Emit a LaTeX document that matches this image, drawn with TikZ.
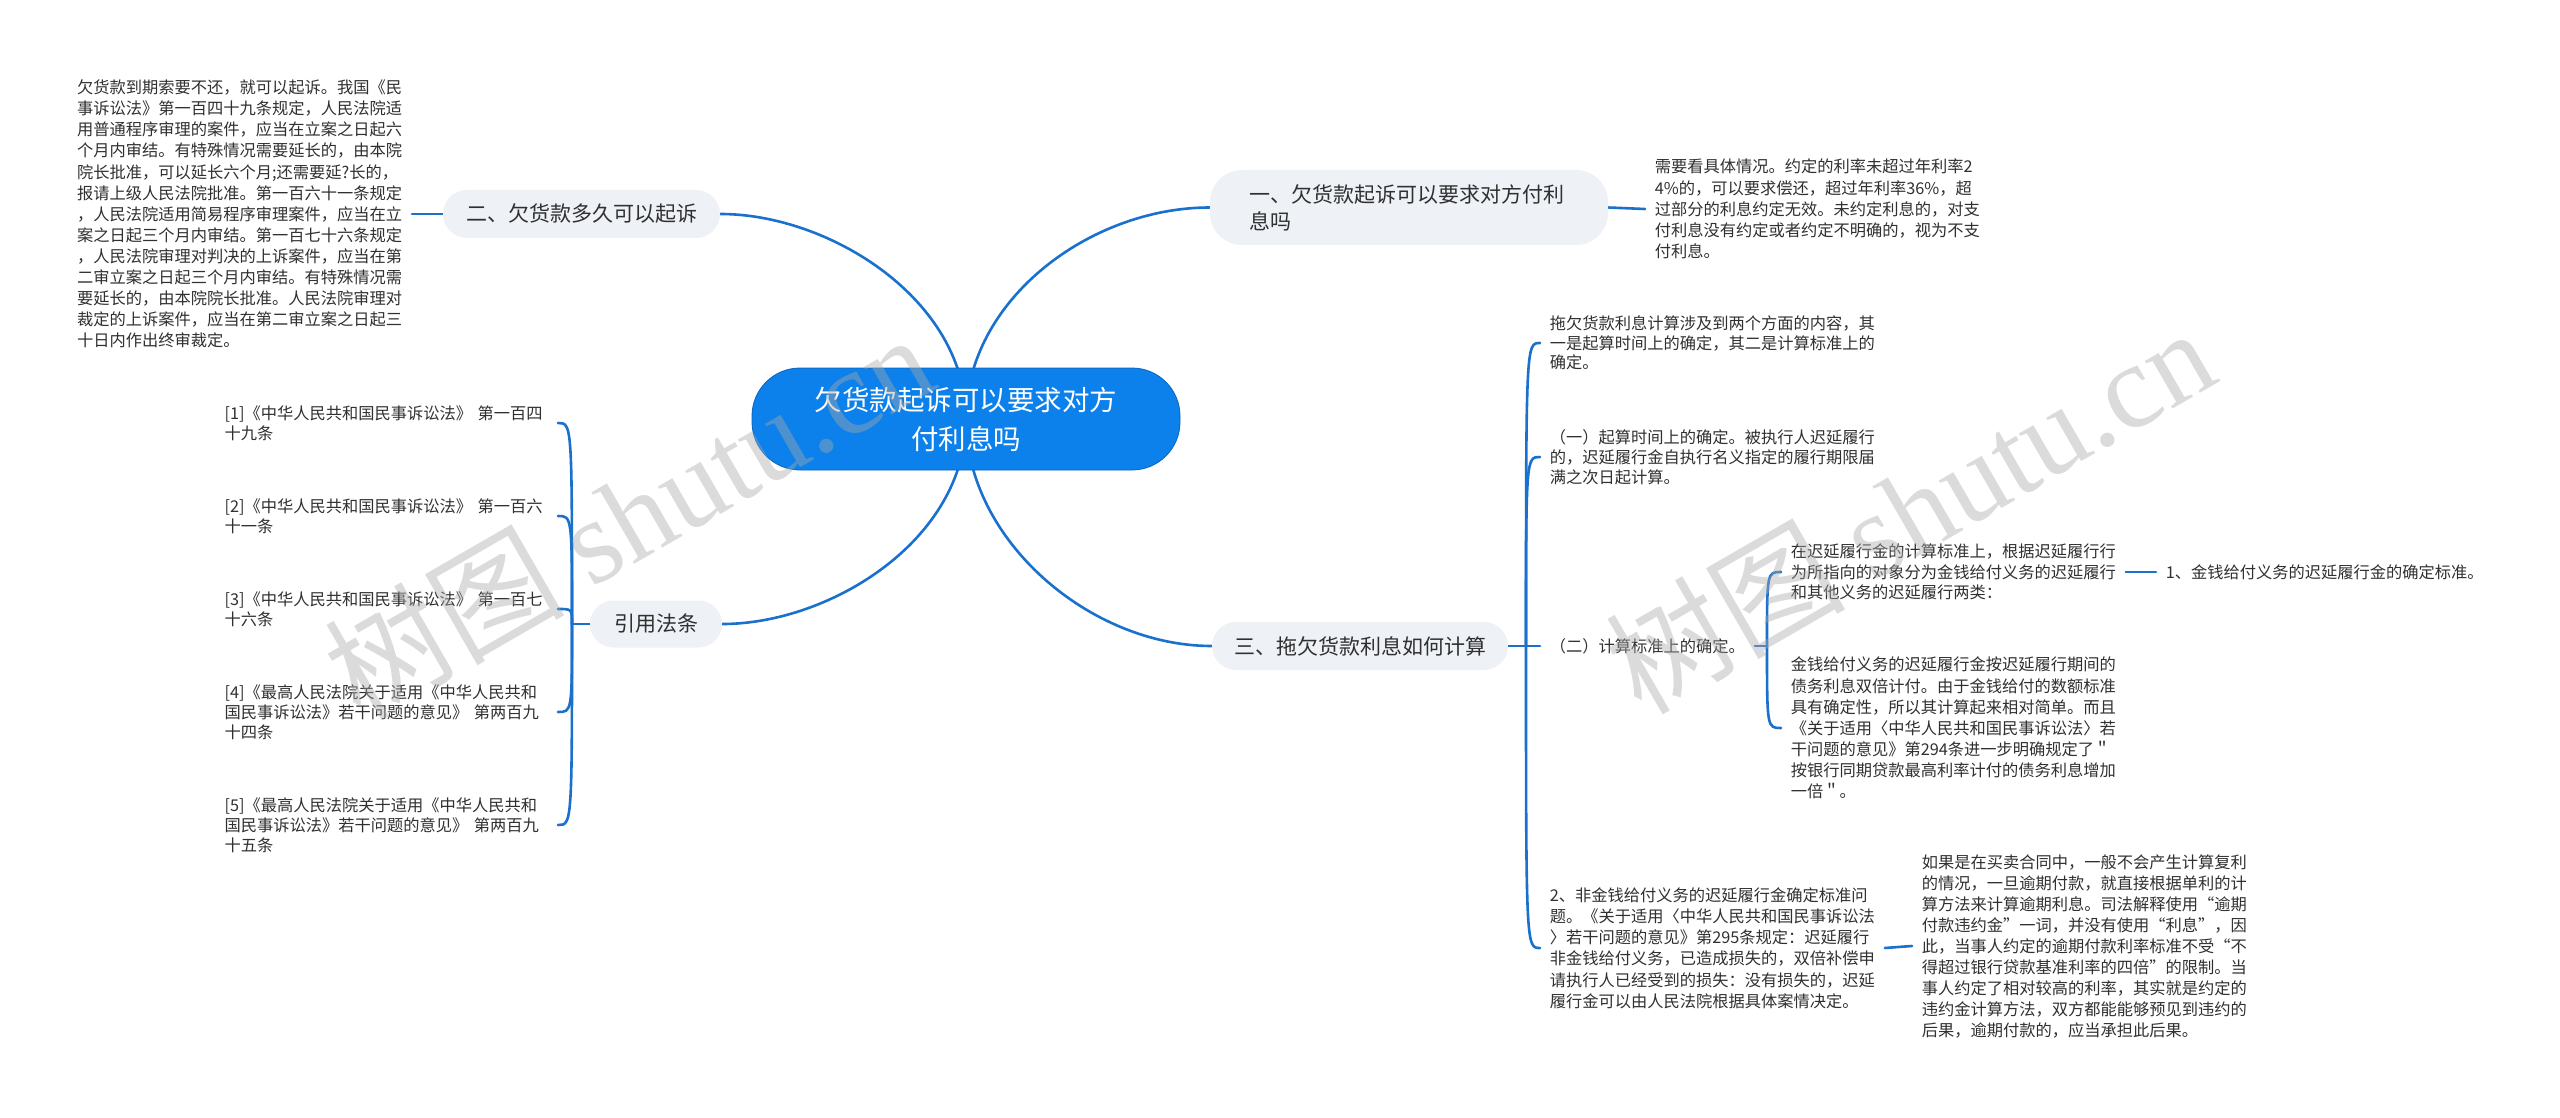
\documentclass[tikz,border=0pt]{standalone}
\usepackage{fontspec}
\setmainfont{Noto Sans CJK SC}
\newfontfamily\wmlatin{Liberation Serif}
\pgfdeclarelayer{bgl}
\pgfdeclarelayer{lines}
\pgfdeclarelayer{wml}
\pgfsetlayers{bgl,lines,main,wml}
\definecolor{lineblue}{RGB}{25,112,205}
\definecolor{pillgray}{RGB}{238,241,246}
\definecolor{rootblue}{RGB}{12,128,235}
\definecolor{txtgray}{RGB}{48,48,48}
\definecolor{wmgray}{RGB}{170,170,170}
\newcommand\lfs[1]{\fontsize{8.125pt}{#1}\selectfont}
\tikzset{
  conn/.style={draw=lineblue, line width=1.3pt, line cap=round},
  pillnode/.style={fill=pillgray, text=txtgray, inner sep=0pt, font={\fontsize{10.5pt}{13.5pt}\selectfont}},
  leaf/.style={text=txtgray, align=left, inner ysep=1pt, inner xsep=4.75pt},
  leafR/.style={leaf, anchor=west},
  leafL/.style={leaf, anchor=east},
  wmark/.style={text=wmgray, opacity=0.42, rotate=30, font={\fontsize{60pt}{60pt}\selectfont}}
}
\begin{document}
\begin{tikzpicture}[x=0.5pt,y=-0.5pt]
\useasboundingbox (0,0) rectangle (2560,1118);
\begin{pgfonlayer}{bgl}
\fill[white] (0,0) rectangle (2560,1118);
\end{pgfonlayer}

% root and branches
\node[pillnode, fill=rootblue, draw=rootblue!80!black, line width=0.4pt, text=white, minimum width=214pt, minimum height=51pt, rounded corners=24pt, align=center, font={\fontsize{13.75pt}{19.5pt}\selectfont}] (root) at (966,419) {欠货款起诉可以要求对方\\付利息吗};
\node[pillnode, minimum width=138.5pt, minimum height=24pt, rounded corners=12pt] (b2) at (581.5,214) {二、欠货款多久可以起诉};
\node[pillnode, minimum width=66pt, minimum height=23.5pt, rounded corners=11.75pt] (b4) at (656,624) {引用法条};
\node[pillnode, minimum width=199pt, minimum height=37.5pt, rounded corners=16pt, text width=160pt, align=left] (b1) at (1409,207.5) {一、欠货款起诉可以要求对方付利\\息吗};
\node[pillnode, minimum width=148pt, minimum height=24pt, rounded corners=12pt] (b3) at (1360,646) {三、拖欠货款利息如何计算};

% left leaves
\node[leafL, font=\lfs{10.55pt}] (l2) at (412,214) {欠货款到期索要不还，就可以起诉。我国《民\\事诉讼法》第一百四十九条规定，人民法院适\\用普通程序审理的案件，应当在立案之日起六\\个月内审结。有特殊情况需要延长的，由本院\\院长批准，可以延长六个月;还需要延?长的，\\报请上级人民法院批准。第一百六十一条规定\\，人民法院适用简易程序审理案件，应当在立\\案之日起三个月内审结。第一百七十六条规定\\，人民法院审理对判决的上诉案件，应当在第\\二审立案之日起三个月内审结。有特殊情况需\\要延长的，由本院院长批准。人民法院审理对\\裁定的上诉案件，应当在第二审立案之日起三\\十日内作出终审裁定。};
\node[leafL, text width=162.5pt, inner xsep=4pt, font=\lfs{10pt}] (r1) at (558,423) {[1]《中华人民共和国民事诉讼法》 第一百四\\十九条};
\node[leafL, text width=162.5pt, inner xsep=4pt, font=\lfs{10pt}] (r2) at (558,516) {[2]《中华人民共和国民事诉讼法》 第一百六\\十一条};
\node[leafL, text width=162.5pt, inner xsep=4pt, font=\lfs{10pt}] (r3) at (558,609) {[3]《中华人民共和国民事诉讼法》 第一百七\\十六条};
\node[leafL, text width=162.5pt, inner xsep=4pt, font=\lfs{10pt}] (r4) at (558,712) {[4]《最高人民法院关于适用《中华人民共和\\国民事诉讼法》若干问题的意见》 第两百九\\十四条};
\node[leafL, text width=162.5pt, inner xsep=4pt, font=\lfs{10pt}] (r5) at (558,825) {[5]《最高人民法院关于适用《中华人民共和\\国民事诉讼法》若干问题的意见》 第两百九\\十五条};

% right leaves
\node[leafR, font=\lfs{10.6pt}] (l1) at (1645,209) {需要看具体情况。约定的利率未超过年利率2\\4\%的，可以要求偿还，超过年利率36\%，超\\过部分的利息约定无效。未约定利息的，对支\\付利息没有约定或者约定不明确的，视为不支\\付利息。};
\node[leafR, font=\lfs{9.8pt}] (a1) at (1540,343) {拖欠货款利息计算涉及到两个方面的内容，其\\一是起算时间上的确定，其二是计算标准上的\\确定。};
\node[leafR, font=\lfs{10pt}] (a2) at (1540,457) {（一）起算时间上的确定。被执行人迟延履行\\的，迟延履行金自执行名义指定的履行期限届\\满之次日起计算。};
\node[leafR, font=\lfs{10pt}] (a3) at (1540,646) {（二）计算标准上的确定。};
\node[leafR, font=\lfs{10.3pt}] (c1) at (1781,572) {在迟延履行金的计算标准上，根据迟延履行行\\为所指向的对象分为金钱给付义务的迟延履行\\和其他义务的迟延履行两类：};
\node[leafR, font=\lfs{10pt}] (c1a) at (2156,572) {1、金钱给付义务的迟延履行金的确定标准。};
\node[leafR, font=\lfs{10.55pt}] (c2) at (1781,728) {金钱给付义务的迟延履行金按迟延履行期间的\\债务利息双倍计付。由于金钱给付的数额标准\\具有确定性，所以其计算起来相对简单。而且\\《关于适用〈中华人民共和国民事诉讼法〉若\\干问题的意见》第294条进一步明确规定了＂\\按银行同期贷款最高利率计付的债务利息增加\\一倍＂。};
\node[leafR, font=\lfs{10.6pt}] (a4) at (1540,948) {2、非金钱给付义务的迟延履行金确定标准问\\题。《关于适用〈中华人民共和国民事诉讼法\\〉若干问题的意见》第295条规定：迟延履行\\非金钱给付义务，已造成损失的，双倍补偿申\\请执行人已经受到的损失：没有损失的，迟延\\履行金可以由人民法院根据具体案情决定。};
\node[leafR, font=\lfs{10.5pt}] (d1) at (1912,946) {如果是在买卖合同中，一般不会产生计算复利\\的情况，一旦逾期付款，就直接根据单利的计\\算方法来计算逾期利息。司法解释使用“逾期\\付款违约金”一词，并没有使用“利息”，因\\此，当事人约定的逾期付款利率标准不受“不\\得超过银行贷款基准利率的四倍”的限制。当\\事人约定了相对较高的利率，其实就是约定的\\违约金计算方法，双方都能能够预见到违约的\\后果，逾期付款的，应当承担此后果。};

\coordinate (s4) at (572,624);
\coordinate (s3) at (1526,646);
\coordinate (sc) at (1767,646);

\begin{pgfonlayer}{lines}
\draw[conn] (root.center) .. controls (966,300) and (830,214) .. (b2.east);
\draw[conn] (root.center) .. controls (966,300) and (1090,207.5) .. (b1.west);
\draw[conn] (root.center) .. controls (966,540) and (830,624) .. (b4.east);
\draw[conn] (root.center) .. controls (966,540) and (1090,646) .. (b3.west);
\draw[conn] (b2.west) -- (l2.east);
\draw[conn] (b1.east) -- (l1.west);
\draw[conn] (b4.west) -- (s4);
\foreach \n in {r1,r2,r3,r4,r5} \draw[conn] (s4) .. controls (s4 |- \n.east) .. (\n.east);
\draw[conn] (b3.east) -- (s3);
\foreach \n in {a1,a2,a3,a4} \draw[conn] (s3) .. controls (s3 |- \n.west) .. (\n.west);
\draw[conn] (a3.east) -- (sc);
\foreach \n in {c1,c2} \draw[conn] (sc) .. controls (sc |- \n.west) .. (\n.west);
\draw[conn] (c1.east) -- (c1a.west);
\draw[conn] (a4.east) -- (d1.west);
\end{pgfonlayer}

\begin{pgfonlayer}{wml}
\node[wmark] (wm1) at (628,515) {树图 {\wmlatin shutu.cn}};
\node[wmark] (wm2) at (1909,509) {树图 {\wmlatin shutu.cn}};
\end{pgfonlayer}
\end{tikzpicture}
\end{document}
